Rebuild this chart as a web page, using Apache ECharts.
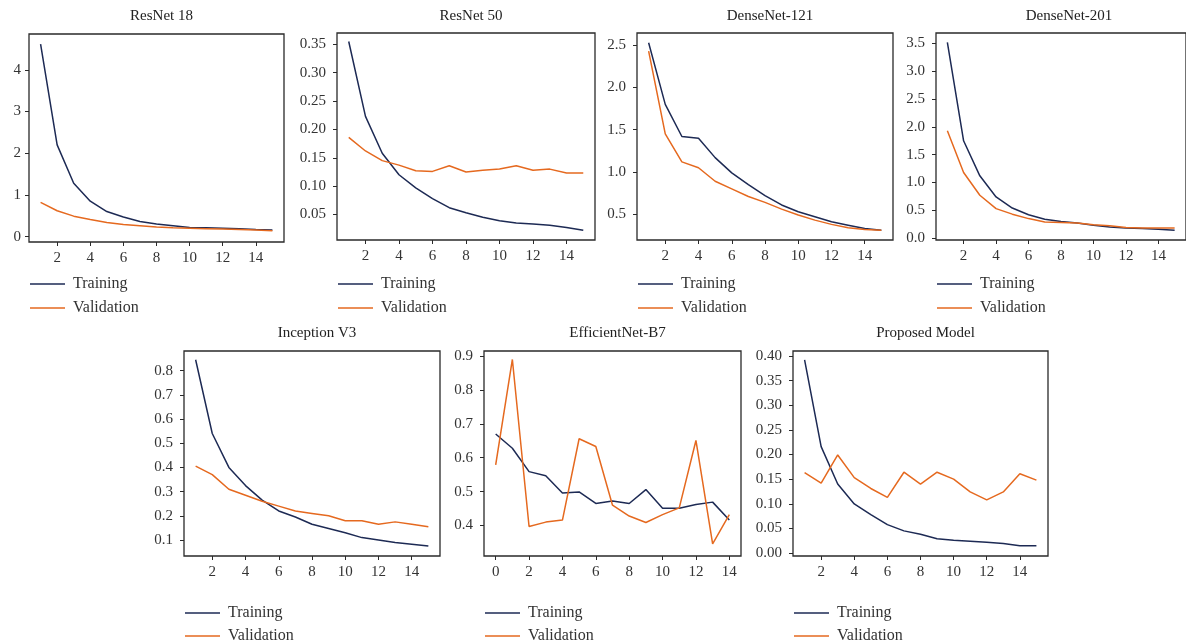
<!DOCTYPE html>
<html>

<head>
    <meta charset="UTF-8">
    <title></title>
    <style>
        html, body { margin: 0; padding: 0; background: #fff; }
        #container { width: 1186px; height: 643px; }
    </style>
</head>

<body>
    <div id="container"></div>
    <script type="text/javascript" src="https://cdn.jsdelivr.net/npm/echarts@6/dist/echarts.min.js"></script>
    <script>
        // epochs
        var epochs = [1, 2, 3, 4, 5, 6, 7, 8, 9, 10, 11, 12, 13, 14, 15];
        var epochsB7 = [0, 1, 2, 3, 4, 5, 6, 7, 8, 9, 10, 11, 12, 13, 14];

        var resnet18Train = [4.62, 2.2, 1.28, 0.85, 0.6, 0.47, 0.36, 0.3, 0.26, 0.22, 0.21, 0.2, 0.19, 0.17, 0.16];
        var resnet18Val = [0.82, 0.62, 0.49, 0.41, 0.34, 0.29, 0.26, 0.23, 0.21, 0.2, 0.19, 0.18, 0.17, 0.16, 0.14];

        var resnet50Train = [0.355, 0.223, 0.158, 0.12, 0.097, 0.078, 0.062, 0.053, 0.045, 0.039, 0.035, 0.033, 0.031, 0.027, 0.022];
        var resnet50Val = [0.186, 0.162, 0.145, 0.137, 0.127, 0.126, 0.136, 0.125, 0.128, 0.13, 0.136, 0.128, 0.13, 0.123, 0.123];

        var dense121Train = [2.53, 1.8, 1.42, 1.4, 1.17, 0.99, 0.85, 0.72, 0.61, 0.53, 0.47, 0.41, 0.37, 0.33, 0.31];
        var dense121Val = [2.43, 1.45, 1.12, 1.05, 0.89, 0.8, 0.71, 0.64, 0.56, 0.49, 0.43, 0.38, 0.34, 0.32, 0.31];

        var dense201Train = [3.52, 1.75, 1.12, 0.74, 0.54, 0.42, 0.34, 0.3, 0.27, 0.23, 0.2, 0.18, 0.17, 0.16, 0.14];
        var dense201Val = [1.93, 1.18, 0.77, 0.53, 0.43, 0.35, 0.29, 0.28, 0.27, 0.24, 0.22, 0.19, 0.18, 0.18, 0.18];

        var inceptionTrain = [0.845, 0.54, 0.4, 0.325, 0.265, 0.22, 0.195, 0.165, 0.148, 0.13, 0.11, 0.1, 0.09, 0.083, 0.075];
        var inceptionVal = [0.405, 0.37, 0.31, 0.285, 0.26, 0.24, 0.22, 0.21, 0.2, 0.18, 0.18, 0.165, 0.175, 0.165, 0.155];

        var effB7Train = [0.67, 0.628, 0.559, 0.547, 0.496, 0.499, 0.465, 0.472, 0.465, 0.506, 0.451, 0.451, 0.462, 0.469, 0.416];
        var effB7Val = [0.579, 0.89, 0.397, 0.41, 0.416, 0.656, 0.633, 0.46, 0.428, 0.409, 0.432, 0.452, 0.651, 0.346, 0.432];

        var proposedTrain = [0.392, 0.216, 0.14, 0.0996, 0.078, 0.0576, 0.045, 0.038, 0.029, 0.026, 0.024, 0.022, 0.0196, 0.015, 0.015];
        var proposedVal = [0.163, 0.142, 0.199, 0.153, 0.131, 0.113, 0.164, 0.14, 0.164, 0.15, 0.124, 0.108, 0.124, 0.161, 0.148];

        // tick labels
        var xTicks = [2, 4, 6, 8, 10, 12, 14];
        var xTicksB7 = [0, 2, 4, 6, 8, 10, 12, 14];
        var yTicks18 = [0, 1, 2, 3, 4];
        var yTicks50 = [0.05, 0.10, 0.15, 0.20, 0.25, 0.30, 0.35];
        var yTicks121 = [0.5, 1.0, 1.5, 2.0, 2.5];
        var yTicks201 = [0.0, 0.5, 1.0, 1.5, 2.0, 2.5, 3.0, 3.5];
        var yTicksInc = [0.1, 0.2, 0.3, 0.4, 0.5, 0.6, 0.7, 0.8];
        var yTicksB7 = [0.4, 0.5, 0.6, 0.7, 0.8, 0.9];
        var yTicksProp = [0.00, 0.05, 0.10, 0.15, 0.20, 0.25, 0.30, 0.35, 0.40];

        var legendNames = ['Training', 'Validation'];

        var panels = [
            { name: 'ResNet 18', x: epochs, train: resnet18Train, val: resnet18Val, xt: xTicks, yt: yTicks18, dec: 0,
              xr: [0.3, 15.7], yr: [-0.13, 4.86], box: [29, 34, 255, 208], gap: 8 },
            { name: 'ResNet 50', x: epochs, train: resnet50Train, val: resnet50Val, xt: xTicks, yt: yTicks50, dec: 2,
              xr: [0.3, 15.7], yr: [0.005, 0.37], box: [337, 33, 258, 207], gap: 11 },
            { name: 'DenseNet-121', x: epochs, train: dense121Train, val: dense121Val, xt: xTicks, yt: yTicks121, dec: 1,
              xr: [0.3, 15.7], yr: [0.195, 2.645], box: [637, 33, 256, 207], gap: 11 },
            { name: 'DenseNet-201', x: epochs, train: dense201Train, val: dense201Val, xt: xTicks, yt: yTicks201, dec: 1,
              xr: [0.3, 15.7], yr: [-0.035, 3.69], box: [936, 33, 256, 207], gap: 11 },
            { name: 'Inception V3', x: epochs, train: inceptionTrain, val: inceptionVal, xt: xTicks, yt: yTicksInc, dec: 1,
              xr: [0.3, 15.7], yr: [0.034, 0.881], box: [184, 351, 256, 205], gap: 11 },
            { name: 'EfficientNet-B7', x: epochsB7, train: effB7Train, val: effB7Val, xt: xTicksB7, yt: yTicksB7, dec: 1,
              xr: [-0.7, 14.7], yr: [0.31, 0.915], box: [484, 351, 257, 205], gap: 11 },
            { name: 'Proposed Model', x: epochs, train: proposedTrain, val: proposedVal, xt: xTicks, yt: yTicksProp, dec: 2,
              xr: [0.3, 15.7], yr: [-0.006, 0.41], box: [793, 351, 255, 205], gap: 11 }
        ];

        var trainColor = '#1d2a54';
        var valColor = '#e5691f';
        var font = 'Liberation Serif';
        var textColor = '#333';

        function pairs(xs, ys) {
            return xs.map(function (x, i) { return [x, ys[i]]; });
        }

        var titles = [], grids = [], xAxes = [], yAxes = [], legends = [], series = [];
        panels.forEach(function (p, i) {
            var b = p.box;
            var row2 = b[1] > 300;
            titles.push({
                text: p.name,
                left: b[0] + b[2] / 2,
                top: row2 ? 321 : 4,
                textAlign: 'center',
                textStyle: { fontFamily: font, fontSize: 15, fontWeight: 'normal', color: '#222' }
            });
            grids.push({
                left: b[0], top: b[1], width: b[2], height: b[3],
                show: true, borderColor: '#2a2a2a', borderWidth: 1.3, containLabel: false
            });
            xAxes.push({
                type: 'value', gridIndex: i, min: p.xr[0], max: p.xr[1],
                axisLine: { show: false, onZero: false },
                splitLine: { show: false },
                axisTick: { show: true, length: 4, lineStyle: { color: '#2a2a2a', width: 1 }, customValues: p.xt },
                axisLabel: { customValues: p.xt, margin: 9, fontFamily: font, fontSize: 15, color: textColor }
            });
            yAxes.push({
                type: 'value', gridIndex: i, min: p.yr[0], max: p.yr[1],
                axisLine: { show: false, onZero: false },
                splitLine: { show: false },
                axisTick: { show: true, length: 4, lineStyle: { color: '#2a2a2a', width: 1 }, customValues: p.yt },
                axisLabel: {
                    customValues: p.yt, margin: p.gap, fontFamily: font, fontSize: 15, color: textColor,
                    formatter: (function (d) { return function (v) { return Number(v).toFixed(d); }; })(p.dec)
                }
            });
            // one legend component per entry so the column never wraps
            var legendTops = row2 ? [605, 628] : [276, 300];
            legendNames.forEach(function (n, k) {
                legends.push({
                    data: [n],
                    left: b[0] + 1,
                    top: legendTops[k],
                    padding: 0,
                    icon: 'rect',
                    itemWidth: 35,
                    itemHeight: 1.6,
                    selectedMode: false,
                    textStyle: { fontFamily: font, fontSize: 16, color: textColor, padding: [0, 0, 0, 3] }
                });
            });
            series.push({
                name: 'Training', type: 'line', xAxisIndex: i, yAxisIndex: i,
                data: pairs(p.x, p.train), symbol: 'none', silent: true,
                lineStyle: { color: trainColor, width: 1.5 }, itemStyle: { color: trainColor }
            });
            series.push({
                name: 'Validation', type: 'line', xAxisIndex: i, yAxisIndex: i,
                data: pairs(p.x, p.val), symbol: 'none', silent: true,
                lineStyle: { color: valColor, width: 1.5 }, itemStyle: { color: valColor }
            });
        });

        var myChart = echarts.init(document.getElementById('container'), null, { renderer: 'canvas' });
        myChart.setOption({
            animation: false,
            backgroundColor: '#fff',
            title: titles,
            grid: grids,
            xAxis: xAxes,
            yAxis: yAxes,
            legend: legends,
            series: series
        });
    </script>
</body>

</html>
